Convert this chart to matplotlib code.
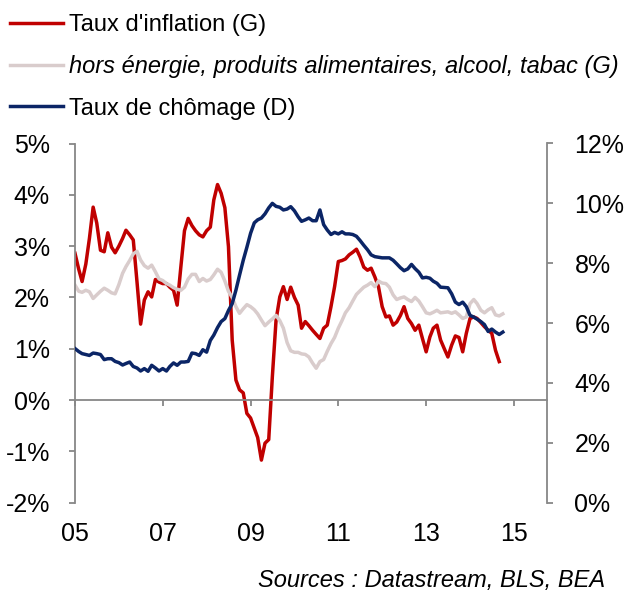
import matplotlib
matplotlib.use("Agg")
import matplotlib.pyplot as plt
import matplotlib.dates as mdates
import pandas as pd

plt.rcParams["font.family"] = ["Liberation Sans", "DejaVu Sans"]

# monthly series, starting January 2005
inflation = [
    2.86, 2.55, 2.31, 2.65, 3.15, 3.76, 3.45, 2.92, 2.89, 3.26, 2.98, 2.87,
    3.00, 3.15, 3.31, 3.22, 3.12, 2.30, 1.48, 1.95, 2.11, 2.01, 2.35, 2.30,
    2.27, 2.27, 2.20, 2.14, 1.85, 2.60, 3.30, 3.54, 3.40, 3.30, 3.22, 3.18,
    3.30, 3.37, 3.90, 4.20, 4.03, 3.75, 2.99, 1.17, 0.39, 0.20, 0.14, -0.26,
    -0.35, -0.55, -0.73, -1.17, -0.84, -0.77, 0.45, 1.56, 2.01, 2.21, 1.96, 2.20,
    2.00, 1.85, 1.40, 1.53, 1.45, 1.36, 1.28, 1.20, 1.40, 1.46, 1.82, 2.21,
    2.70, 2.72, 2.75, 2.83, 2.88, 2.94, 2.79, 2.59, 2.53, 2.57, 2.40, 2.21,
    1.82, 1.62, 1.64, 1.46, 1.52, 1.65, 1.82, 1.59, 1.49, 1.36, 1.46, 1.20,
    0.94, 1.23, 1.40, 1.46, 1.17, 1.00, 0.84, 1.07, 1.25, 1.22, 0.94, 1.30,
    1.59, 1.62, 1.59, 1.51, 1.43, 1.36, 1.30, 0.97, 0.75,
]

core = [
    2.24, 2.12, 2.10, 2.14, 2.11, 1.98, 2.05, 2.12, 2.18, 2.14, 2.09, 2.07,
    2.25, 2.47, 2.60, 2.72, 2.85, 2.90, 2.73, 2.62, 2.57, 2.63, 2.50, 2.36,
    2.33, 2.27, 2.24, 2.19, 2.16, 2.14, 2.20, 2.36, 2.45, 2.45, 2.31, 2.37,
    2.32, 2.35, 2.44, 2.55, 2.49, 2.32, 2.12, 2.00, 1.82, 1.69, 1.78, 1.86,
    1.82, 1.76, 1.68, 1.56, 1.45, 1.52, 1.58, 1.65, 1.55, 1.40, 1.12, 0.96,
    0.93, 0.93, 0.90, 0.89, 0.84, 0.72, 0.62, 0.75, 0.79, 0.95, 1.10, 1.22,
    1.40, 1.55, 1.70, 1.80, 1.93, 2.06, 2.13, 2.20, 2.24, 2.29, 2.21, 2.32,
    2.28, 2.27, 2.20, 2.05, 1.96, 1.99, 2.01, 1.96, 1.92, 2.00, 1.93, 1.82,
    1.70, 1.68, 1.71, 1.75, 1.70, 1.71, 1.72, 1.69, 1.72, 1.66, 1.59, 1.62,
    1.88, 1.96, 1.88, 1.75, 1.70, 1.76, 1.80, 1.66, 1.64, 1.68,
]

unemployment = [
    5.15, 5.05, 4.98, 4.95, 4.92, 5.00, 4.98, 4.95, 4.78, 4.81, 4.81, 4.72,
    4.68, 4.60, 4.65, 4.70, 4.55, 4.50, 4.40, 4.48, 4.39, 4.59, 4.50, 4.40,
    4.48, 4.40, 4.55, 4.67, 4.59, 4.70, 4.70, 4.72, 5.00, 4.98, 4.92, 5.11,
    5.03, 5.42, 5.60, 5.85, 6.05, 6.15, 6.42, 6.65, 7.10, 7.60, 8.10, 8.53,
    9.00, 9.35, 9.45, 9.51, 9.65, 9.85, 10.00, 9.90, 9.87, 9.78, 9.81, 9.89,
    9.75, 9.55, 9.40, 9.45, 9.51, 9.42, 9.42, 9.78, 9.29, 9.11, 8.96, 9.03,
    8.98, 9.05, 8.98, 8.98, 8.96, 8.90, 8.76, 8.60, 8.45, 8.28, 8.22, 8.20,
    8.18, 8.18, 8.18, 8.10, 7.98, 7.85, 7.75, 7.81, 7.96, 7.82, 7.70, 7.51,
    7.53, 7.50, 7.40, 7.33, 7.20, 7.19, 7.18, 6.98, 6.70, 6.62, 6.70, 6.55,
    6.26, 6.20, 6.13, 6.05, 5.95, 5.72, 5.80, 5.70, 5.62, 5.70,
]

labels = [
    "Taux d'inflation (G)",
    "hors énergie, produits alimentaires, alcool, tabac (G)",
    "Taux de chômage (D)",
]
colors = ["#C00000", "#D9CCCC", "#0B2566"]

left_ticks = list(range(-2, 6))
right_ticks = list(range(0, 13, 2))
year_ticks = [2005, 2007, 2009, 2011, 2013, 2015]

dates_infl = pd.date_range("2005-01-01", periods=len(inflation), freq="MS")
dates_core = pd.date_range("2005-01-01", periods=len(core), freq="MS")
dates_unemp = pd.date_range("2005-01-01", periods=len(unemployment), freq="MS")

axis_grey = "#878787"

fig = plt.figure(figsize=(6.28, 5.95), dpi=100)
ax = fig.add_axes([75 / 628, 1 - 502.7 / 595, (546.7 - 75) / 628, (502.7 - 143.5) / 595])
ax2 = ax.twinx()

l1, = ax.plot(dates_infl, inflation, color=colors[0], lw=2.5, solid_joinstyle="round")
l2, = ax.plot(dates_core, core, color=colors[1], lw=2.5, solid_joinstyle="round")
l3, = ax2.plot(dates_unemp, unemployment, color=colors[2], lw=2.5, solid_joinstyle="round")
ax.set_zorder(ax2.get_zorder() - 1)
ax2.patch.set_visible(False)

ax.set_ylim(-2, 5)
ax2.set_ylim(0, 12)
ax.set_xlim(pd.Timestamp("2005-01-01"), pd.Timestamp("2015-10-01"))

ax.set_yticks(left_ticks)
ax.set_yticklabels([f"{v}%" for v in left_ticks])
ax2.set_yticks(right_ticks)
ax2.set_yticklabels([f"{v}%" for v in right_ticks])

xt = [pd.Timestamp(f"{y}-01-01") for y in year_ticks]
ax.set_xticks(xt)
ax.tick_params(axis="x", labelbottom=False, direction="out", length=4,
               width=1.3, color=axis_grey)

# year labels sit under the plot area, ticks stay on the zero line
sec = ax.secondary_xaxis(0.0)
sec.set_xticks(xt)
sec.xaxis.set_major_formatter(mdates.DateFormatter("%y"))
sec.tick_params(length=0, pad=14, labelsize=18)
sec.spines["bottom"].set_visible(False)

for a in (ax, ax2):
    a.spines["top"].set_visible(False)
    for s in a.spines.values():
        s.set_color(axis_grey)
        s.set_linewidth(1.3)
ax.spines["right"].set_visible(False)
ax2.spines["left"].set_visible(False)
ax2.spines["bottom"].set_visible(False)
ax.spines["bottom"].set_position(("data", 0))

ax.tick_params(axis="y", direction="out", length=4, width=1.3, color=axis_grey,
               labelsize=18, pad=14)
ax2.tick_params(axis="y", direction="out", length=4, width=1.3, color=axis_grey,
                labelsize=18, pad=16)

leg = fig.legend([l1, l2, l3], labels, loc="upper left",
                 bbox_to_anchor=(10 / 628, 1 - 14 / 595), frameon=False,
                 borderpad=0, borderaxespad=0, handlelength=2.25,
                 handletextpad=0.25, labelspacing=0.82, fontsize=17)
leg.get_texts()[1].set_style("italic")
for h in leg.legend_handles:
    h.set_linewidth(2.5)

fig.text(605 / 628, 1 - 580 / 595, "Sources : Datastream, BLS, BEA",
         ha="right", va="center", style="italic", fontsize=17)

fig.savefig("out.png", dpi=100)
